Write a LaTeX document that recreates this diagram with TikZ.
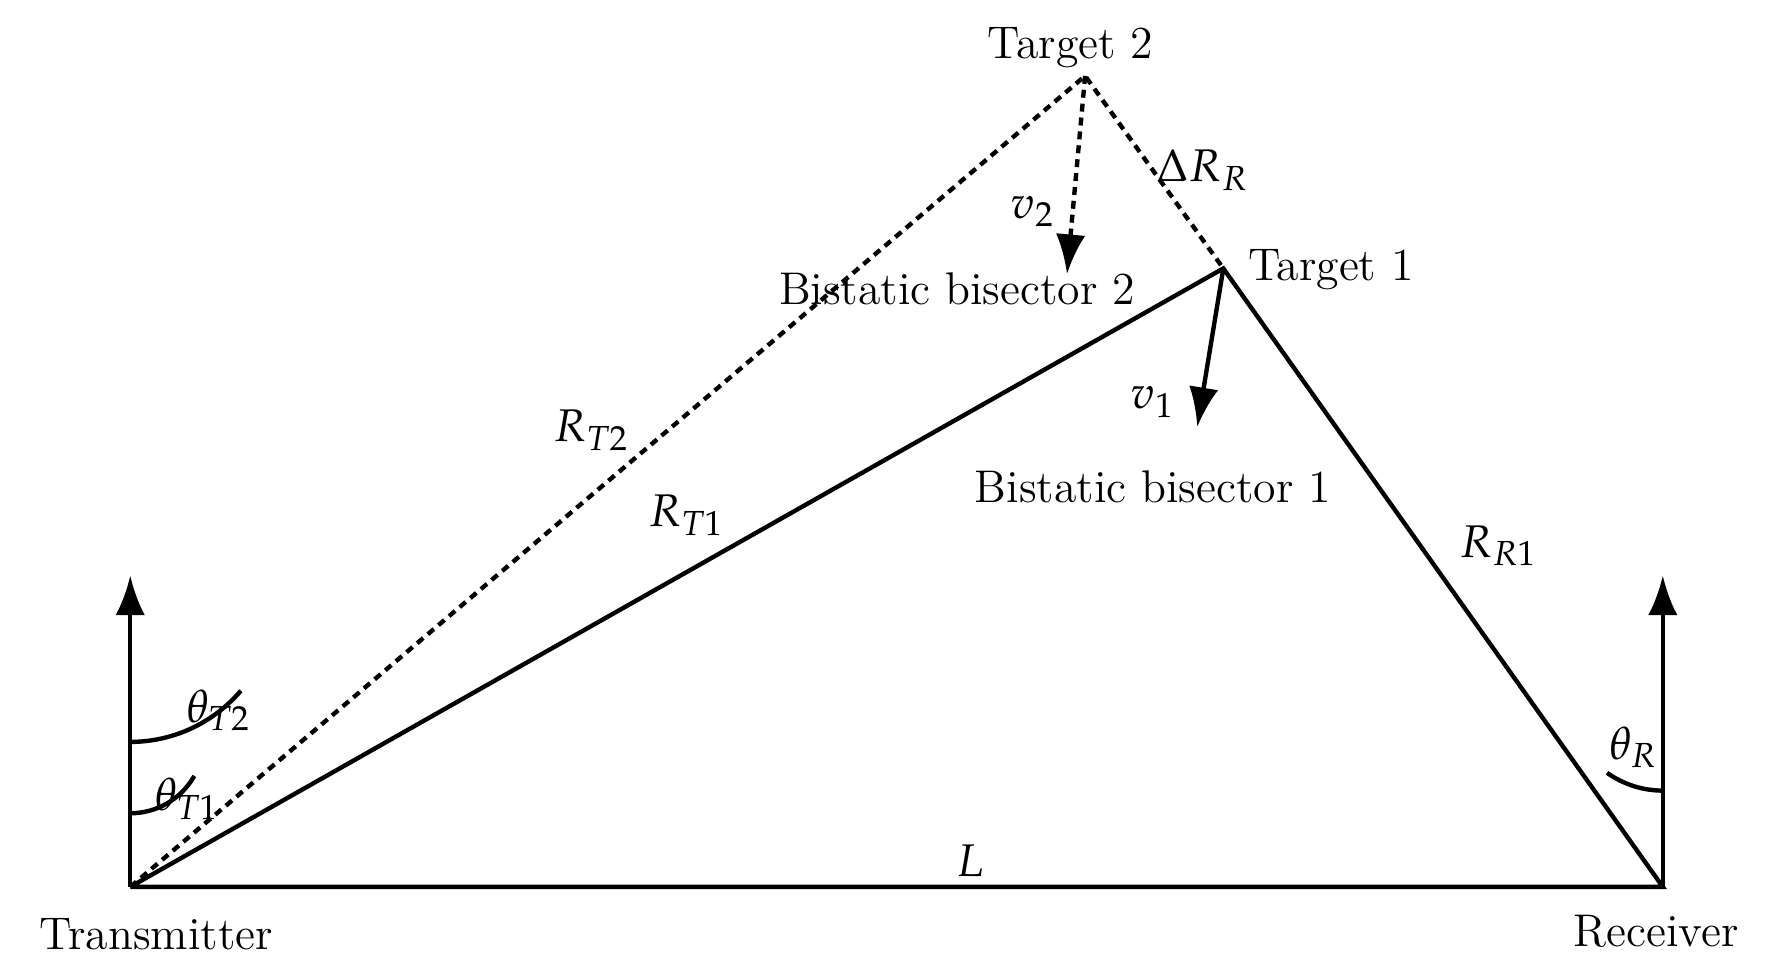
\documentclass[tikz,border=0pt]{standalone}
\usepackage{mathpazo}
\usetikzlibrary{arrows.meta}
\begin{document}
\begin{tikzpicture}[x=0.01cm,y=-0.01cm,
  ln/.style={line width=1.1pt},
  dl/.style={line width=1.1pt,dash pattern=on 2pt off 1.5pt},
  ar/.style={-{Latex[length=3.5mm,width=2.6mm]}},
  lb/.style={font=\fontsize{11.5}{13}\selectfont,inner sep=1pt}]
\useasboundingbox (0,0) rectangle (1560,858);
\coordinate (T) at (115,783);
\coordinate (R) at (1468,783);
\coordinate (T1) at (1080,237);
\coordinate (T2) at (958,67);
\coordinate (TU) at (115,508);
\coordinate (RU) at (1468,508);
\coordinate (V2) at (942,242);
\coordinate (V1) at (1057,377);
\draw[ln] (T) -- (R) -- (T1) -- (T);
\draw[dl] (T) -- (T2) -- (T1);
\draw[ln,ar] (T) -- (TU);
\draw[ln,ar] (R) -- (RU);
\draw[dl,ar] (T2) -- (V2);
\draw[ln,ar] (T1) -- (V1);
\draw[ln] (115,655) arc[start angle=90,end angle=40.3,radius=128];
\draw[ln] (115,718) arc[start angle=90,end angle=29.5,radius=65];
\draw[ln] (1468,698) arc[start angle=90,end angle=125.4,radius=85];
\node[lb] (lt2) at (945,42) {Target 2};
\node[lb] (lt1) at (1175,238) {Target 1};
\node[lb] (ldr) at (1062,150) {$\Delta R_{R}$};
\node[lb] (lv2) at (912,187) {$v_{2}$};
\node[lb] (lv1) at (1018,355) {$v_{1}$};
\node[lb] (lb2) at (845,255) {Bistatic bisector 2};
\node[lb] (lb1) at (1018,430) {Bistatic bisector 1};
\node[lb] (lrt2) at (522,380) {$R_{T2}$};
\node[lb] (lrt1) at (606,455) {$R_{T1}$};
\node[lb] (lrr1) at (1323,482) {$R_{R1}$};
\node[lb] (lth2) at (193,627) {$\theta_{T2}$};
\node[lb] (lth1) at (165,705) {$\theta_{T1}$};
\node[lb] (lthr) at (1442,660) {$\theta_{R}$};
\node[lb] (lL) at (857,760) {$L$};
\node[lb] (ltx) at (138,825) {Transmitter};
\node[lb] (lrx) at (1462,822) {Receiver};
\end{tikzpicture}
\end{document}
